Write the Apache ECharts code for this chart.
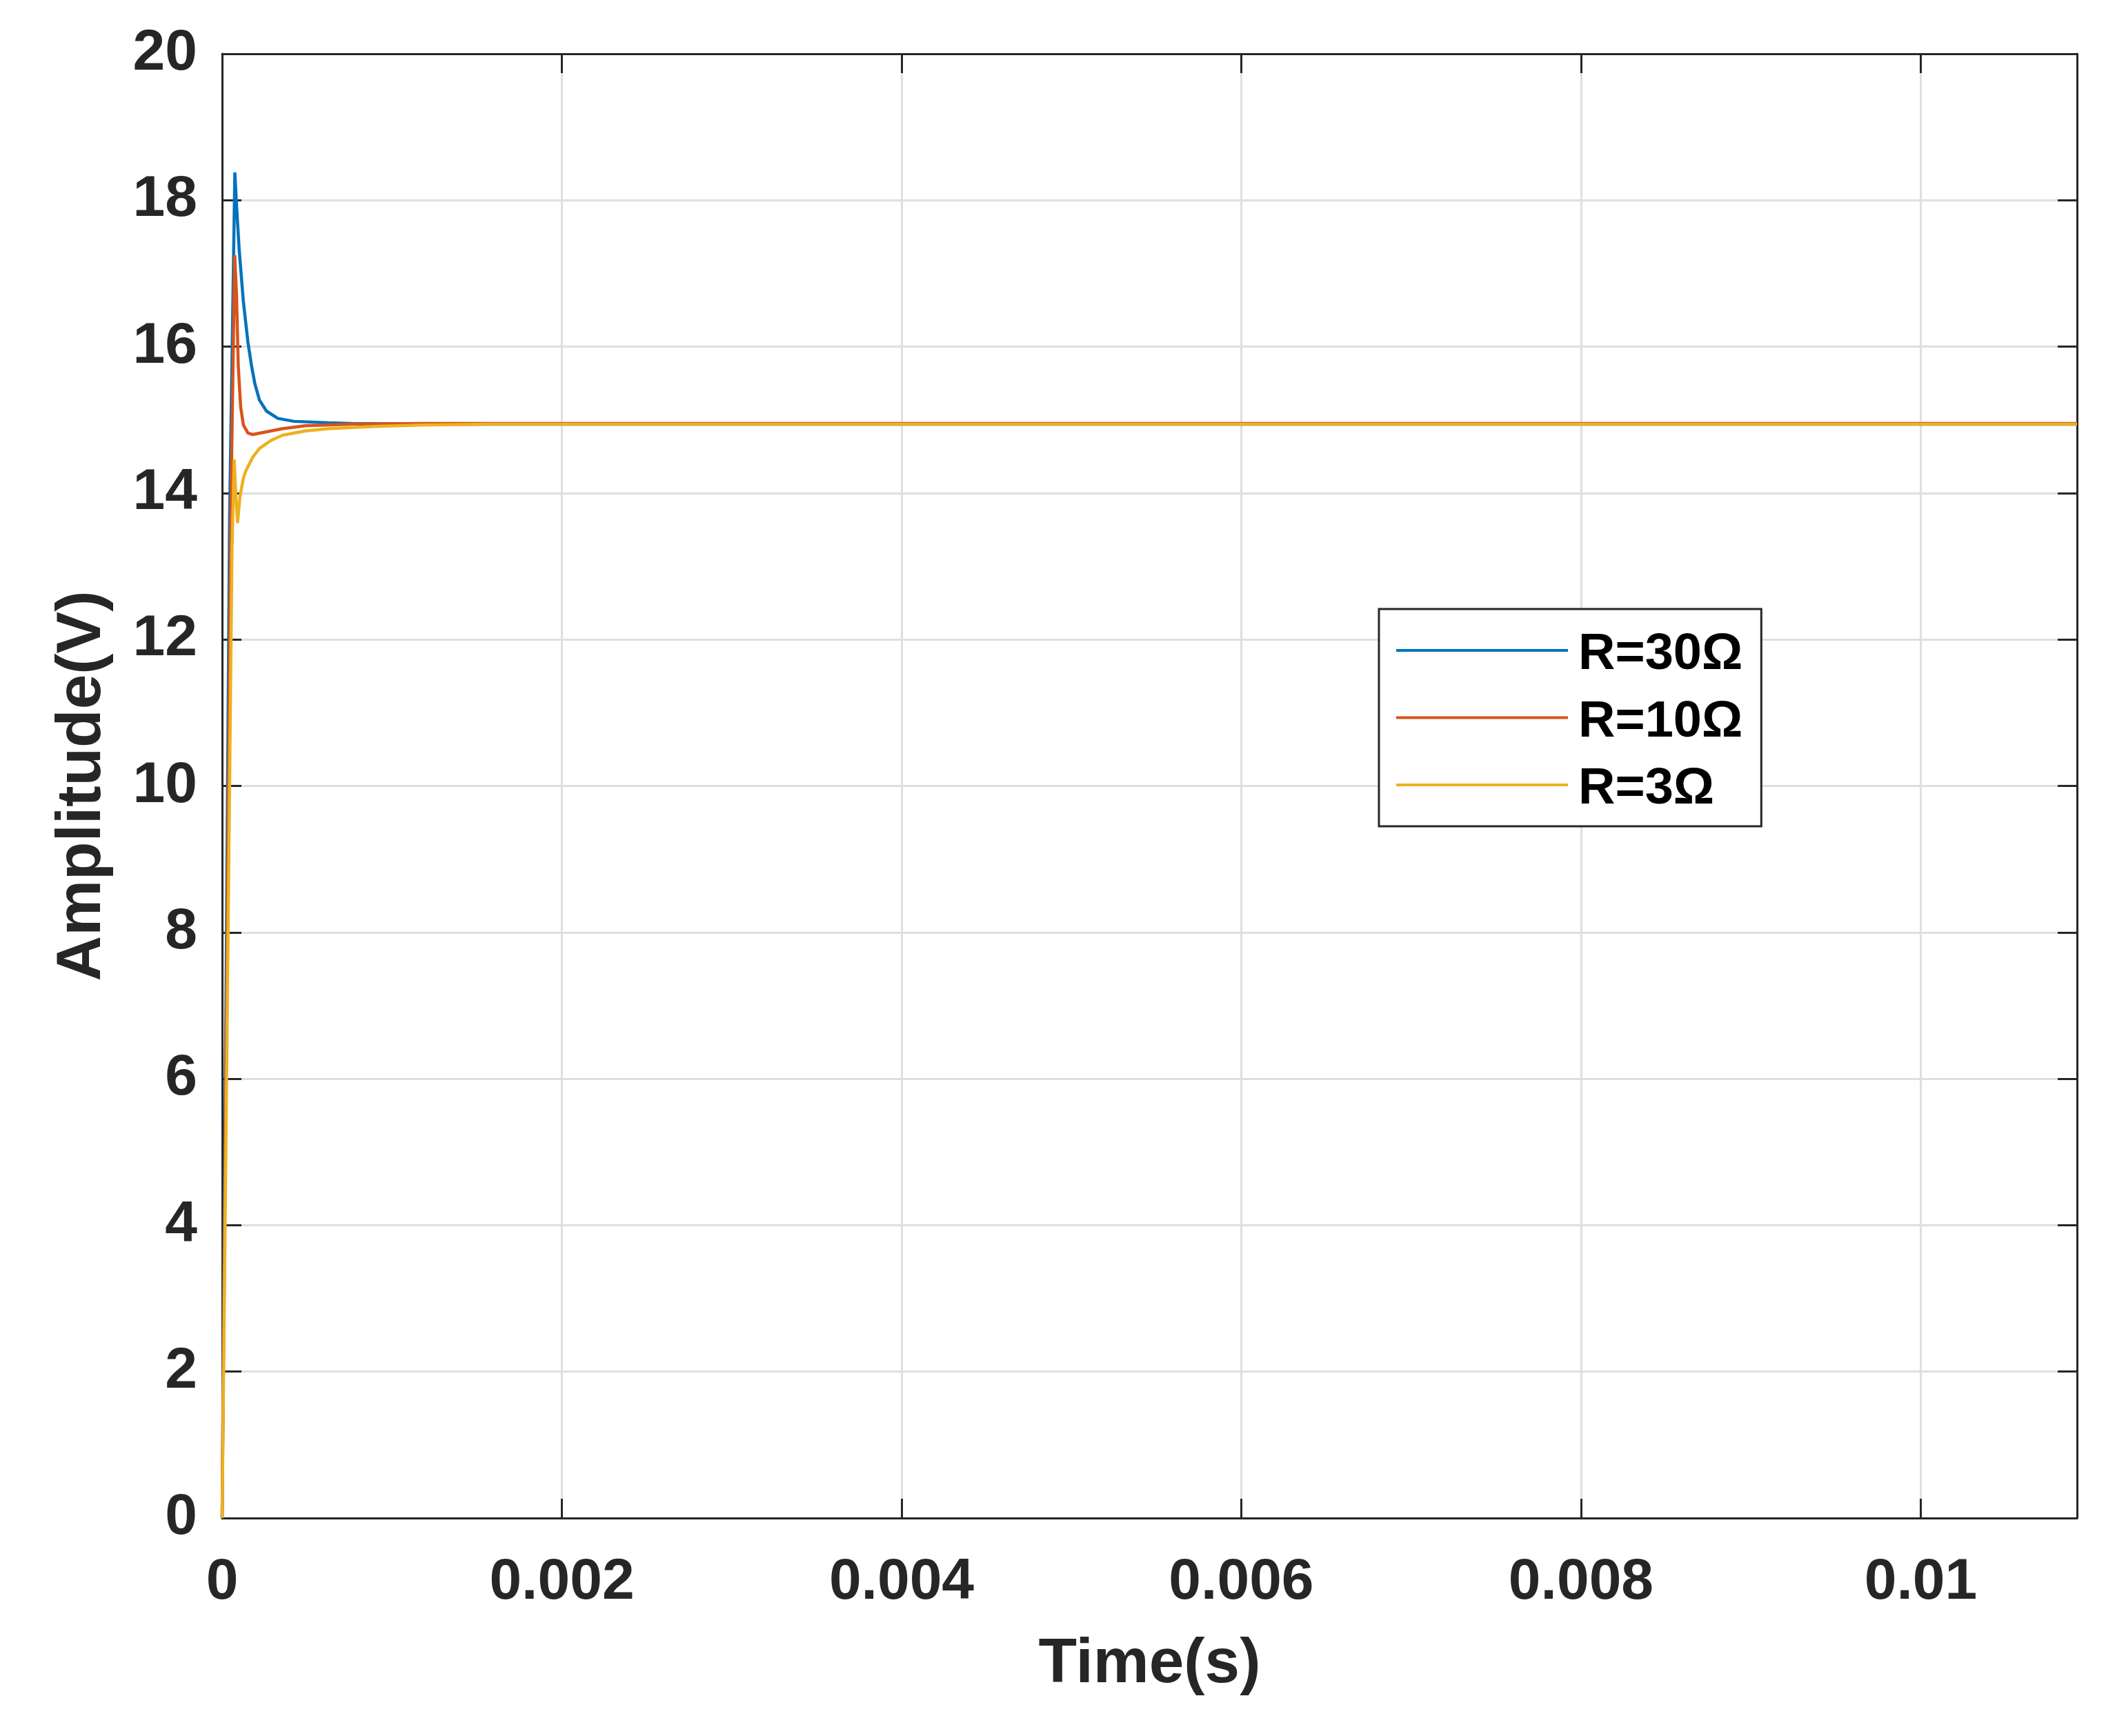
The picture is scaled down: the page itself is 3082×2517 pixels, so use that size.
<!DOCTYPE html>
<html><head><meta charset="utf-8">
<script src="https://cdn.jsdelivr.net/npm/echarts@6/dist/echarts.min.js"></script>
<style>html,body{margin:0;padding:0;background:#fff}#c{width:3082px;height:2517px}</style>
</head><body><div id="c"></div>
<script>
// ---- data (time in seconds, amplitude in volts) ----
const seriesNames = ['R=30Ω', 'R=10Ω', 'R=3Ω'];
const seriesColors = ['#0072BD', '#D95319', '#EDB120'];

const timeR30 = [0, 0.000044, 0.000075, 0.0000846, 0.0001009, 0.000125, 0.000152, 0.000173, 0.000193, 0.000220, 0.000261, 0.000328, 0.000423, 0.000627, 0.000762, 0.0012, 0.002, 0.003, 0.004, 0.005, 0.006, 0.007, 0.008, 0.009, 0.010, 0.01092];
const voltR30 = [0, 13.67, 18.38, 17.94, 17.31, 16.62, 16.06, 15.74, 15.49, 15.27, 15.12, 15.02, 14.98, 14.96, 14.95, 14.94, 14.94, 14.94, 14.94, 14.94, 14.94, 14.94, 14.94, 14.94, 14.94, 14.94];

const timeR10 = [0, 0.000051, 0.000074, 0.000085, 0.000095, 0.000109, 0.000125, 0.000152, 0.000180, 0.000247, 0.000356, 0.000491, 0.000762, 0.0012, 0.002, 0.003, 0.004, 0.005, 0.006, 0.007, 0.008, 0.009, 0.010, 0.01092];
const voltR10 = [0, 13.67, 17.25, 16.69, 15.74, 15.18, 14.93, 14.82, 14.80, 14.83, 14.88, 14.92, 14.94, 14.95, 14.95, 14.95, 14.95, 14.95, 14.95, 14.95, 14.95, 14.95, 14.95, 14.95];

const timeR3 = [0, 0.000058, 0.000071, 0.000080, 0.000091, 0.000105, 0.000125, 0.000139, 0.000180, 0.000220, 0.000288, 0.000356, 0.000491, 0.000627, 0.000898, 0.001168, 0.001575, 0.002, 0.003, 0.004, 0.005, 0.006, 0.007, 0.008, 0.009, 0.010, 0.01092];
const voltR3 = [0, 13.2, 14.46, 14.0, 13.59, 13.95, 14.20, 14.30, 14.49, 14.61, 14.72, 14.79, 14.85, 14.88, 14.91, 14.93, 14.94, 14.94, 14.94, 14.94, 14.94, 14.94, 14.94, 14.94, 14.94, 14.94, 14.94];

const xTickValues = [0, 0.002, 0.004, 0.006, 0.008, 0.01];
const xTickLabels = ['0', '0.002', '0.004', '0.006', '0.008', '0.01'];
const yTickValues = [0, 2, 4, 6, 8, 10, 12, 14, 16, 18, 20];
const yTickLabels = ['0', '2', '4', '6', '8', '10', '12', '14', '16', '18', '20'];

// ---- chart ----
const FONT = '"Liberation Sans", Arial, Helvetica, sans-serif';
const AX = '#262626';
function zip(t, v) { return t.map((x, i) => [x, v[i]]); }
function lookup(vals, labels, v) {
  for (let i = 0; i < vals.length; i++) if (Math.abs(vals[i] - v) < 1e-9) return labels[i];
  return '';
}
const xMax = 0.01092;

const axisLine = { show: true, onZero: false, lineStyle: { color: AX, width: 3 } };
const axisTick = { show: true, inside: true, length: 28, lineStyle: { color: AX, width: 3 } };
const split = { show: true, lineStyle: { color: '#dfdfdf', width: 3 } };

const chart = echarts.init(document.getElementById('c'), null, { renderer: 'canvas' });
chart.setOption({
  animation: false,
  backgroundColor: '#ffffff',
  grid: { left: 322, top: 78, width: 2689, height: 2123, containLabel: false },
  xAxis: [
    {
      type: 'value', min: 0, max: xMax, interval: 0.002, position: 'bottom',
      axisLine: axisLine, axisTick: axisTick, splitLine: split,
      axisLabel: { margin: 52, fontSize: 84, fontWeight: 'bold', color: AX, fontFamily: FONT,
        formatter: v => lookup(xTickValues, xTickLabels, v) },
      name: 'Time(s)', nameLocation: 'middle', nameGap: 167,
      nameTextStyle: { fontSize: 91, fontWeight: 'bold', color: AX, fontFamily: FONT }
    },
    {
      type: 'value', min: 0, max: xMax, interval: 0.002, position: 'top',
      axisLine: axisLine, axisTick: axisTick, splitLine: { show: false }, axisLabel: { show: false }
    }
  ],
  yAxis: [
    {
      type: 'value', min: 0, max: 20, interval: 2, position: 'left',
      axisLine: axisLine, axisTick: axisTick, splitLine: split,
      axisLabel: { margin: 36, fontSize: 84, fontWeight: 'bold', color: AX, fontFamily: FONT,
        formatter: v => lookup(yTickValues, yTickLabels, v) },
      name: 'Amplitude(V)', nameLocation: 'middle', nameRotate: 90, nameGap: 157,
      nameTextStyle: { fontSize: 91, fontWeight: 'bold', color: AX, fontFamily: FONT }
    },
    {
      type: 'value', min: 0, max: 20, interval: 2, position: 'right',
      axisLine: axisLine, axisTick: axisTick, splitLine: { show: false }, axisLabel: { show: false }
    }
  ],
  legend: {
    data: seriesNames, orient: 'vertical', left: 1999, top: 883,
    icon: 'rect',
    padding: [16, 27, 16, 25], itemGap: 9.5, itemWidth: 249, itemHeight: 4,
    borderColor: AX, borderWidth: 3, backgroundColor: '#ffffff',
    formatter: name => '{t|' + name + '}',
    textStyle: {
      fontSize: 74, fontWeight: 'bold', color: '#000', fontFamily: FONT,
      rich: { t: { fontSize: 74, fontWeight: 'bold', color: '#000', fontFamily: FONT, lineHeight: 74, padding: [14, 0, 0, 10] } }
    }
  },
  series: [
    { name: seriesNames[0], type: 'line', data: zip(timeR30, voltR30), symbol: 'none', color: seriesColors[0], lineStyle: { width: 4.5 }, z: 3 },
    { name: seriesNames[1], type: 'line', data: zip(timeR10, voltR10), symbol: 'none', color: seriesColors[1], lineStyle: { width: 4.5 }, z: 4 },
    { name: seriesNames[2], type: 'line', data: zip(timeR3, voltR3), symbol: 'none', color: seriesColors[2], lineStyle: { width: 4.5 }, z: 5 }
  ]
});
</script>
</body></html>
